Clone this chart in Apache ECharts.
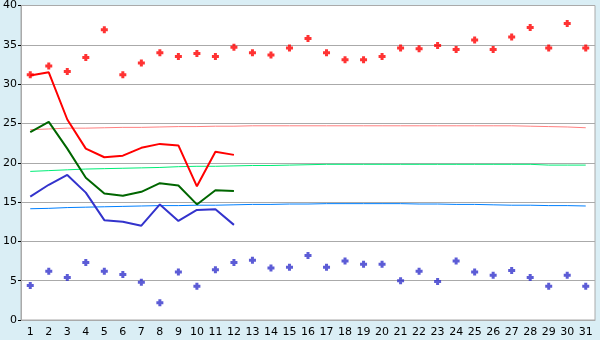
<!DOCTYPE html>
<html><head><meta charset="utf-8">
<script src="https://cdn.jsdelivr.net/npm/echarts@6/dist/echarts.min.js"></script>
<style>html,body{margin:0;padding:0;background:#daeef5;}#c{width:600px;height:340px;}</style>
</head><body><div id="c"></div>
<script>
var days = [];
for (var i = 1; i <= 31; i++) days.push(String(i));
var yTicks = [0, 5, 10, 15, 20, 25, 30, 35, 40];

var redLine   = [31.1, 31.5, 25.5, 21.8, 20.7, 20.9, 21.9, 22.4, 22.2, 17.0, 21.4, 21.0];
var greenLine = [23.9, 25.2, 21.8, 18.1, 16.1, 15.8, 16.3, 17.4, 17.1, 14.7, 16.5, 16.4];
var blueLine  = [15.7, 17.2, 18.45, 16.2, 12.7, 12.5, 12.0, 14.7, 12.6, 14.0, 14.1, 12.1];

var redPoints = [31.2, 32.3, 31.6, 33.4, 36.9, 31.2, 32.7, 34.0, 33.5, 33.9, 33.5, 34.7, 34.0, 33.7, 34.6, 35.8, 34.0, 33.1, 33.1, 33.5, 34.6, 34.5, 34.9, 34.4, 35.6, 34.4, 36.0, 37.2, 34.6, 37.7, 34.6];
var bluePoints = [4.4, 6.2, 5.4, 7.3, 6.2, 5.8, 4.8, 2.2, 6.1, 4.3, 6.4, 7.3, 7.6, 6.6, 6.7, 8.2, 6.7, 7.5, 7.1, 7.1, 5.0, 6.2, 4.9, 7.5, 6.1, 5.7, 6.3, 5.4, 4.3, 5.7, 4.3];

var pinkNormal = [24.2, 24.3, 24.4, 24.4, 24.45, 24.5, 24.5, 24.55, 24.6, 24.6, 24.65, 24.65, 24.7, 24.7, 24.7, 24.7, 24.7, 24.7, 24.7, 24.7, 24.7, 24.7, 24.7, 24.7, 24.7, 24.7, 24.7, 24.65, 24.6, 24.55, 24.45];
var greenNormal = [18.9, 19.0, 19.1, 19.2, 19.25, 19.3, 19.35, 19.4, 19.5, 19.55, 19.55, 19.6, 19.65, 19.65, 19.7, 19.75, 19.8, 19.8, 19.8, 19.8, 19.8, 19.8, 19.8, 19.8, 19.8, 19.8, 19.8, 19.8, 19.7, 19.7, 19.7];
var blueNormal = [14.15, 14.2, 14.3, 14.35, 14.4, 14.45, 14.5, 14.55, 14.55, 14.6, 14.6, 14.65, 14.7, 14.7, 14.75, 14.75, 14.8, 14.8, 14.8, 14.8, 14.8, 14.75, 14.75, 14.7, 14.7, 14.65, 14.6, 14.6, 14.55, 14.55, 14.5];

var plus = 'path://M2,0H5V2H7V5H5V7H2V5H0V2H2Z';

function lineS(data, color, width, z) {
  return {type: 'line', data: data, symbol: 'none', showSymbol: false, silent: true, z: z,
    lineStyle: {color: color, width: width}};
}
function pts(data, color) {
  return {type: 'scatter', data: data, symbol: plus, symbolSize: 7, silent: true, z: 5,
    itemStyle: {color: color}};
}

var chart = echarts.init(document.getElementById('c'), null, {renderer: 'canvas'});
chart.setOption({
  animation: false,
  backgroundColor: '#daeef5',
  grid: {left: 20, right: 5, top: 5, bottom: 20, show: true, backgroundColor: '#ffffff', borderColor: '#aaaaaa', borderWidth: 1},
  xAxis: {
    type: 'category', data: days, boundaryGap: true,
    axisLine: {lineStyle: {color: '#aaaaaa'}},
    axisTick: {alignWithLabel: true, length: 5, lineStyle: {color: '#000'}},
    axisLabel: {color: '#000', fontFamily: 'DejaVu Sans', fontSize: 11, margin: 7, interval: 0},
    splitLine: {show: false}
  },
  yAxis: {
    type: 'value', min: yTicks[0], max: yTicks[yTicks.length - 1], interval: 5,
    axisLine: {show: true, lineStyle: {color: '#aaaaaa'}},
    axisTick: {show: true, length: 3, lineStyle: {color: '#000'}},
    axisLabel: {color: '#000', fontFamily: 'DejaVu Sans', fontSize: 11, margin: 4},
    splitLine: {lineStyle: {color: '#aaaaaa', width: 1}}
  },
  series: [
    lineS(pinkNormal, '#ff8080', 1, 2),
    lineS(greenNormal, '#00ee77', 1, 2),
    lineS(blueNormal, '#0080ff', 1, 2),
    lineS(redLine, '#ff0000', 2, 3),
    lineS(greenLine, '#006600', 2, 3),
    lineS(blueLine, '#3333cc', 2, 3),
    pts(redPoints, '#ff0000'),
    pts(bluePoints, '#3333cc')
  ]
});
</script></body></html>
